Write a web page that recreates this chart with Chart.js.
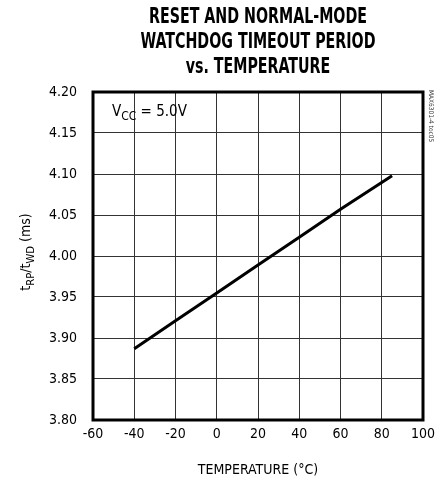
<!DOCTYPE html>
<html>
<head>
<meta charset="utf-8">
<script src="https://cdn.jsdelivr.net/npm/chart.js@4/dist/chart.umd.min.js"></script>
<style>
  html, body { margin: 0; padding: 0; background: #fff; }
  #wrap { width: 435px; height: 483px; }
</style>
</head>
<body>
<div id="wrap"><canvas id="c" width="435" height="483"></canvas></div>
<script>
// dados
const temperaturas = [-40, -20, 0, 20, 40, 60, 85];
const periodoMs = [3.887, 3.921, 3.955, 3.989, 4.023, 4.057, 4.098];
const ticksX = [-60, -40, -20, 0, 20, 40, 60, 80, 100];
const ticksY = [3.80, 3.85, 3.90, 3.95, 4.00, 4.05, 4.10, 4.15, 4.20];
const titulo = ['RESET AND NORMAL-MODE', 'WATCHDOG TIMEOUT PERIOD', 'vs. TEMPERATURE'];

const FONTE = "'Liberation Sans Narrow', 'DejaVu Sans Condensed', 'Roboto Condensed', sans-serif";

// escreve texto com subscrito, ex.: [['V',0],['CC',1],[' = 5.0V',0]]
function textoSub(ctx, partes, x, y, tam) {
  let cx = x;
  partes.forEach(function (p) {
    ctx.font = (p[1] ? tam * 0.8 : tam) + 'px ' + FONTE;
    ctx.fillText(p[0], cx, y + (p[1] ? tam * 0.25 : 0));
    cx += ctx.measureText(p[0]).width;
  });
  return cx - x;
}
function larguraSub(ctx, partes, tam) {
  let w = 0;
  partes.forEach(function (p) {
    ctx.font = (p[1] ? tam * 0.8 : tam) + 'px ' + FONTE;
    w += ctx.measureText(p[0]).width;
  });
  return w;
}

const extras = {
  id: 'extras',
  afterDraw: function (chart) {
    const ctx = chart.ctx;
    const a = chart.chartArea;
    ctx.save();
    // moldura grossa
    ctx.strokeStyle = '#000';
    ctx.lineWidth = 3;
    ctx.strokeRect(a.left, a.top, a.right - a.left, a.bottom - a.top);

    ctx.fillStyle = '#000';
    ctx.textBaseline = 'alphabetic';

    // título (negrito condensado, comprimido na horizontal)
    ctx.font = 'bold 21px ' + FONTE;
    ctx.textAlign = 'center';
    const cx = (a.left + a.right) / 2;
    const larg2 = ctx.measureText(titulo[1]).width;
    const esc = 235 / larg2;
    titulo.forEach(function (t, i) {
      ctx.save();
      ctx.translate(cx, 23 + i * 25);
      ctx.scale(esc, 1);
      ctx.fillText(t, 0, 0);
      ctx.restore();
    });

    // rótulo do eixo y
    ctx.textAlign = 'left';
    const rotY = [['t', 0], ['RP', 1], ['/t', 0], ['WD', 1], [' (ms)', 0]];
    const wy = larguraSub(ctx, rotY, 14);
    ctx.save();
    ctx.translate(30, (a.top + a.bottom) / 2 - 4);
    ctx.rotate(-Math.PI / 2);
    textoSub(ctx, rotY, -wy / 2, 0, 14);
    ctx.restore();

    // anotação VCC
    const vcc = [['V', 0], ['CC', 1], [' = 5.0V', 0]];
    textoSub(ctx, vcc, 112, 116, 15);

    // código da figura
    ctx.save();
    ctx.font = '6.5px ' + FONTE;
    ctx.fillStyle = '#333';
    ctx.translate(429, 90);
    ctx.rotate(Math.PI / 2);
    ctx.fillText('MAX6301-4 toc05', 0, 0);
    ctx.restore();

    ctx.restore();
  }
};

new Chart(document.getElementById('c'), {
  type: 'scatter',
  data: {
    datasets: [{
      data: temperaturas.map(function (t, i) { return { x: t, y: periodoMs[i] }; }),
      showLine: true,
      borderColor: '#000',
      borderWidth: 3,
      pointRadius: 0,
      tension: 0
    }]
  },
  options: {
    responsive: false,
    animation: false,
    layout: { padding: { top: 92, right: 0, left: 0, bottom: 0 } },
    plugins: { legend: { display: false }, tooltip: { enabled: false } },
    scales: {
      x: {
        type: 'linear', min: -60, max: 100,
        afterBuildTicks: function (s) { s.ticks = ticksX.map(function (v) { return { value: v }; }); },
        afterFit: function (s) { s.height = 63; s.paddingRight = 12; s.paddingLeft = 0; },
        grid: { color: '#333', lineWidth: 1, drawTicks: false },
        border: { display: false },
        ticks: { color: '#000', padding: 6, font: { family: FONTE, size: 14 } },
        title: { display: true, text: 'TEMPERATURE (°C)', color: '#000', padding: { top: 8 }, font: { family: FONTE, size: 14 } }
      },
      y: {
        type: 'linear', min: 3.80, max: 4.20,
        afterBuildTicks: function (s) { s.ticks = ticksY.map(function (v) { return { value: v }; }); },
        afterFit: function (s) { s.width = 93; },
        grid: { color: '#333', lineWidth: 1, drawTicks: false },
        border: { display: false },
        ticks: {
          color: '#000', padding: 16, font: { family: FONTE, size: 14 },
          callback: function (v) { return v.toFixed(2); }
        }
      }
    }
  },
  plugins: [extras]
});
</script>
</body>
</html>
